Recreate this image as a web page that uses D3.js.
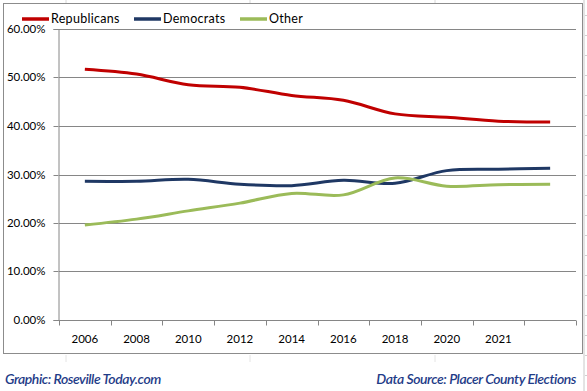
<!DOCTYPE html>
<html><head><meta charset="utf-8">
<script src="https://cdn.jsdelivr.net/npm/d3@7/dist/d3.min.js"></script>
<style>
html,body{margin:0;padding:0;background:#fff;}
svg{display:block;}
text{font-family:Lato,"Noto Sans",sans-serif;}
</style></head>
<body>
<svg id="c" width="587" height="391"></svg>
<script>
const categories = ["2006","2008","2010","2012","2014","2016","2018","2020","2021"," "];
const republicans = [0.517,0.507,0.485,0.480,0.463,0.453,0.425,0.418,0.410,0.408];
const democrats   = [0.286,0.286,0.290,0.280,0.277,0.288,0.282,0.308,0.311,0.313];
const other       = [0.196,0.208,0.225,0.241,0.261,0.258,0.293,0.276,0.279,0.280];
const yTicks = [0,0.1,0.2,0.3,0.4,0.5,0.6];
const seriesNames = ["Republicans","Democrats","Other"];
const colors = ["#C00000","#1F3864","#9BBB59"];
const series = [republicans, democrats, other];

const svg = d3.select("#c");
const L = 59, R = 576, T = 29, B = 320;

// spreadsheet cell lines peeking around the chart
const cellCols = [66,250,435];
svg.selectAll(".cellTop").data(cellCols).join("line")
  .attr("x1",d=>d).attr("x2",d=>d).attr("y1",0).attr("y2",3)
  .attr("stroke","#d8d8d8");
svg.selectAll(".cellBot").data(cellCols).join("line")
  .attr("x1",d=>d).attr("x2",d=>d).attr("y1",355).attr("y2",362)
  .attr("stroke","#e4e4e4");
svg.append("line").attr("x1",584).attr("x2",584).attr("y1",0).attr("y2",391).attr("stroke","#c8c8c8");
svg.selectAll(".rowT").data(d3.range(15,391,20)).join("line")
  .attr("x1",585).attr("x2",587).attr("y1",d=>d+0.5).attr("y2",d=>d+0.5).attr("stroke","#d0d0d0");

// chart frame
svg.append("rect").attr("x",3.5).attr("y",3.5).attr("width",579).attr("height",350)
  .attr("fill","#fff").attr("stroke","#8c8c8c").attr("stroke-width",1);

const x = d3.scaleBand().domain(categories).range([L,R]).padding(0);
const y = d3.scaleLinear().domain([0,0.6]).range([B,T]);

// gridlines
svg.append("g").selectAll("line").data(yTicks.slice(1)).join("line")
  .attr("x1",L).attr("x2",R)
  .attr("y1",d=>Math.round(y(d))+0.5).attr("y2",d=>Math.round(y(d))+0.5)
  .attr("stroke","#868686").attr("stroke-width",1);

// y axis
const yAxis = d3.axisLeft(y).tickValues(yTicks).tickSize(5).tickPadding(8)
  .tickFormat(d3.format(".2%"));
const gy = svg.append("g").attr("transform",`translate(${L-0.5},0)`).call(yAxis);
gy.select(".domain").attr("stroke","#868686");
gy.selectAll(".tick line").attr("stroke","#868686");
gy.selectAll(".tick").attr("transform",d=>`translate(0,${Math.round(y(d))+0.5})`);
gy.selectAll("text").attr("font-size","11.5px").attr("fill","#000")
  .attr("font-family","Lato, 'Noto Sans', sans-serif");

// x axis
const gx = svg.append("g").attr("transform",`translate(0,${B+0.5})`);
gx.append("line").attr("x1",L-0.5).attr("x2",R).attr("stroke","#868686");
const bounds = categories.map(c=>x(c)).concat([x(categories[categories.length-1])+x.bandwidth()]);
gx.selectAll(".xt").data(bounds).join("line")
  .attr("x1",d=>Math.round(d)+0.5).attr("x2",d=>Math.round(d)+0.5)
  .attr("y1",0).attr("y2",5).attr("stroke","#868686");
gx.selectAll(".xl").data(categories).join("text")
  .attr("x",d=>x(d)+x.bandwidth()/2).attr("y",22)
  .attr("text-anchor","middle").attr("font-size","11.5px").attr("fill","#000")
  .text(d=>d);

// lines
const line = d3.line()
  .x((d,i)=>x(categories[i])+x.bandwidth()/2)
  .y(d=>y(d))
  .curve(d3.curveCatmullRom.alpha(0.5));
svg.append("g").selectAll("path").data(series).join("path")
  .attr("d",line).attr("fill","none")
  .attr("stroke",(d,i)=>colors[i]).attr("stroke-width",3)
  .attr("stroke-linejoin","round").attr("stroke-linecap","butt");

// legend
const legendX = [22,134,240];
const lg = svg.append("g").selectAll("g").data(seriesNames).join("g")
  .attr("transform",(d,i)=>`translate(${legendX[i]},19)`);
lg.append("line").attr("x1",0).attr("x2",27).attr("y1",0).attr("y2",0)
  .attr("stroke",(d,i)=>colors[i]).attr("stroke-width",3.5);
lg.append("text").attr("x",29).attr("y",4).attr("font-size","12.5px")
  .attr("fill","#000").attr("letter-spacing","0.3px").text(d=>d);

// footer
svg.append("text").attr("x",5).attr("y",384)
  .attr("font-family","'Open Sans', sans-serif").attr("font-style","italic").attr("font-weight",600)
  .attr("font-size","14px").attr("fill","#1F3C88").attr("letter-spacing","-0.45px")
  .text("Graphic: Roseville Today.com");
svg.append("text").attr("x",576).attr("y",384).attr("text-anchor","end")
  .attr("font-family","'Open Sans', sans-serif").attr("font-style","italic").attr("font-weight",600)
  .attr("font-size","14px").attr("fill","#1F3C88").attr("letter-spacing","-0.45px")
  .text("Data Source: Placer County Elections");
</script>
</body></html>
